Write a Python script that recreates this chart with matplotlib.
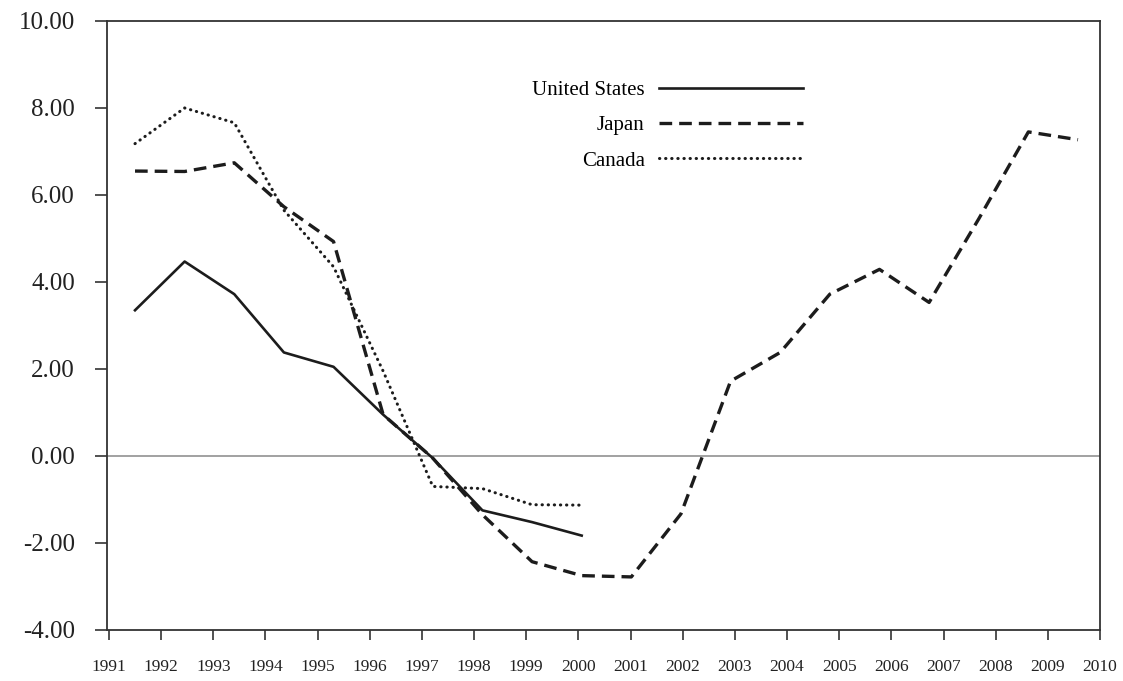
import matplotlib
matplotlib.use("Agg")
import matplotlib.pyplot as plt

# values
years = list(range(1991, 2011))
us = [3.35, 4.47, 3.72, 2.38, 2.05, 0.95, -0.05, -1.25, -1.52, -1.83]
japan = [6.55, 6.54, 6.74, 5.73, 4.93, 0.95, -0.05, -1.35, -2.43, -2.75,
         -2.78, -1.33, 1.72, 2.38, 3.72, 4.29, 3.53, 5.45, 7.45, 7.27]
canada = [7.18, 8.00, 7.66, 5.65, 4.35, 1.95, -0.70, -0.75, -1.12, -1.13]
y_ticks = [-4, -2, 0, 2, 4, 6, 8, 10]

plt.rcParams['font.family'] = ['Liberation Serif', 'DejaVu Serif']
ink = '#1c1c1c'

fig = plt.figure(figsize=(11.23, 6.81), dpi=100)
ax = fig.add_axes([0.0953, 0.0749, 0.8842, 0.8943])

# data sit on category centres
ax.plot(range(len(us)), us, color=ink, lw=1.9, label='United States')
ax.plot(range(len(japan)), japan, color=ink, lw=2.4,
        linestyle=(0, (3.8, 2.1)), label='Japan')
ax.plot(range(len(canada)), canada, color=ink, lw=2.2,
        linestyle=(0, (0.1, 1.9)), dash_capstyle='round', label='Canada')

ax.axhline(0, color='#9a9a9a', lw=1.3, zorder=0)

ax.set_xlim(-0.564, 19.443)
ax.set_ylim(-4, 10)
ax.set_yticks(y_ticks)
ax.set_yticklabels([f'{v:.2f}' for v in y_ticks], fontsize=18, color='#222222')
ax.tick_params(axis='y', direction='out', length=9, width=1.2, pad=14, colors='#333333')
ax.tick_params(axis='y', labelcolor='#222222')
ax.set_xticks([])
for s in ax.spines.values():
    s.set_color('#333333')
    s.set_linewidth(1.3)

# year labels sit on tick marks, not on the data points
ax2 = ax.twiny()
ax2.set_xlim(1990.962, 2010)
ax2.set_xticks(years)
ax2.set_xticklabels([str(y) for y in years], fontsize=12.5, color='#222222')
ax2.xaxis.set_ticks_position('bottom')
ax2.xaxis.set_label_position('bottom')
ax2.tick_params(axis='x', direction='out', length=7, width=1.2, pad=14, colors='#333333')
ax2.tick_params(axis='x', labelcolor='#222222')
for s in ax2.spines.values():
    s.set_visible(False)

ax.legend(loc='upper right', bbox_to_anchor=(0.701, 0.902), frameon=False,
          markerfirst=False, fontsize=15, handlelength=6.9, handletextpad=0.7,
          labelspacing=0.75, borderpad=0, borderaxespad=0)

fig.savefig('out.png', dpi=100, facecolor='white')
